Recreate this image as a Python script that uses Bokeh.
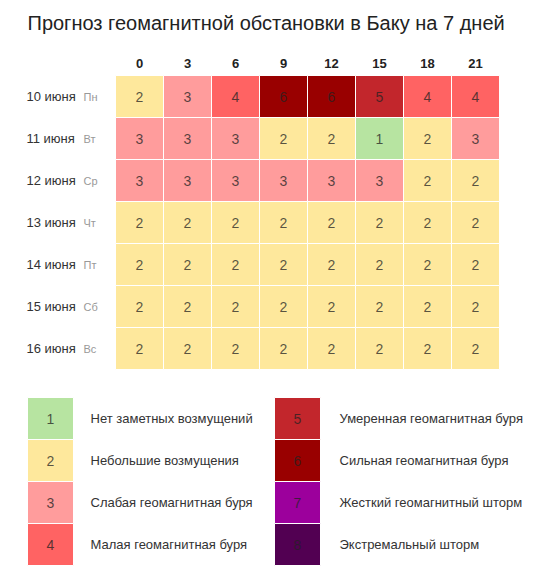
#!/usr/bin/env python3
# -*- coding: utf-8 -*-
from bokeh.core.properties import value
from bokeh.embed import file_html
from bokeh.models import ColumnDataSource, Range1d
from bokeh.plotting import figure
from bokeh.resources import INLINE

TITLE = "Прогноз геомагнитной обстановки в Баку на 7 дней"
HOURS = ["0", "3", "6", "9", "12", "15", "18", "21"]
DATES = ["10 июня", "11 июня", "12 июня", "13 июня", "14 июня", "15 июня", "16 июня"]
WEEKDAYS = ["Пн", "Вт", "Ср", "Чт", "Пт", "Сб", "Вс"]
KP = [
    [2, 3, 4, 6, 6, 5, 4, 4],
    [3, 3, 3, 2, 2, 1, 2, 3],
    [3, 3, 3, 3, 3, 3, 2, 2],
    [2, 2, 2, 2, 2, 2, 2, 2],
    [2, 2, 2, 2, 2, 2, 2, 2],
    [2, 2, 2, 2, 2, 2, 2, 2],
    [2, 2, 2, 2, 2, 2, 2, 2],
]
LEVELS = [1, 2, 3, 4, 5, 6, 7, 8]
LEVEL_LABELS = [
    "Нет заметных возмущений",
    "Небольшие возмущения",
    "Слабая геомагнитная буря",
    "Малая геомагнитная буря",
    "Умеренная геомагнитная буря",
    "Сильная геомагнитная буря",
    "Жесткий геомагнитный шторм",
    "Экстремальный шторм",
]
LEVEL_COLORS = ["#b7e4a1", "#fee89c", "#ff9c9c", "#ff6363",
                "#c2262c", "#990000", "#9c009c", "#520052"]

FONT = value("Liberation Sans")

# layout in screen pixels
GX, CW = 115, 48      # grid left, column width
GY, RH = 75, 42       # grid top, row height
HEAD_Y = 63
LEG_X = [27, 274]
LEG_TX = [90, 339]
LEG_Y, LEG_W = 397, 46

p = figure(
    width=535,
    height=575,
    x_range=Range1d(0, 535),
    y_range=Range1d(575, 0),
    toolbar_location=None,
    output_backend="svg",
    min_border=0,
)
p.axis.visible = False
p.grid.visible = False
p.outline_line_color = None
p.background_fill_color = "white"
p.border_fill_color = "white"

# heatmap cells
cx, cy, cval, ccol = [], [], [], []
for r, row in enumerate(KP):
    for c, v in enumerate(row):
        cx.append(GX + CW * (c + 0.5))
        cy.append(GY + RH * (r + 0.5))
        cval.append(str(v))
        ccol.append(LEVEL_COLORS[v - 1])
cells = ColumnDataSource(data={"x": cx, "y": cy, "v": cval, "color": ccol})
p.rect(x="x", y="y", width=CW, height=RH, source=cells, fill_color="color",
       line_color="white", line_width=1)
p.text(x="x", y="y", text="v", source=cells, text_font=FONT, text_font_size=value("14px"),
       text_color="#222222", text_alpha=0.75, text_align="center", text_baseline="middle")

# hour header
p.text(x=[GX + CW * (i + 0.5) for i in range(len(HOURS))], y=[HEAD_Y] * len(HOURS), text=HOURS,
       text_font=FONT, text_font_size=value("13px"), text_font_style="bold", text_color="#222222",
       text_align="center", text_baseline="middle")

# date labels
row_y = [GY + RH * (i + 0.5) for i in range(len(DATES))]
p.text(x=[26] * len(DATES), y=row_y, text=DATES, text_font=FONT, text_font_size=value("13px"),
       text_color="#333333", text_baseline="middle")
p.text(x=[83] * len(WEEKDAYS), y=row_y, text=WEEKDAYS, text_font=FONT, text_font_size=value("11px"),
       text_color="#999999", text_baseline="middle")

# legend
lx, ly, ltx, lcol, lnum = [], [], [], [], []
for i, lev in enumerate(LEVELS):
    col, k = divmod(i, 4)
    lx.append(LEG_X[col] + LEG_W / 2)
    ltx.append(LEG_TX[col])
    ly.append(LEG_Y + RH * (k + 0.5))
    lcol.append(LEVEL_COLORS[i])
    lnum.append(str(lev))
leg = ColumnDataSource(data={"x": lx, "y": ly, "tx": ltx, "color": lcol, "n": lnum, "label": LEVEL_LABELS})
p.rect(x="x", y="y", width=LEG_W, height=RH, source=leg, fill_color="color",
       line_color="white", line_width=1)
p.text(x="x", y="y", text="n", source=leg, text_font=FONT, text_font_size=value("14px"),
       text_color="#222222", text_alpha=0.75, text_align="center", text_baseline="middle")
p.text(x="tx", y="y", text="label", source=leg, text_font=FONT, text_font_size=value("13px"),
       text_color="#333333", text_baseline="middle")

# title
p.text(x=[27], y=[22], text=[TITLE], text_font=FONT, text_font_size=value("20px"),
       text_color="#222222", text_baseline="middle")

open("out.html", "w").write(file_html(p, INLINE))
